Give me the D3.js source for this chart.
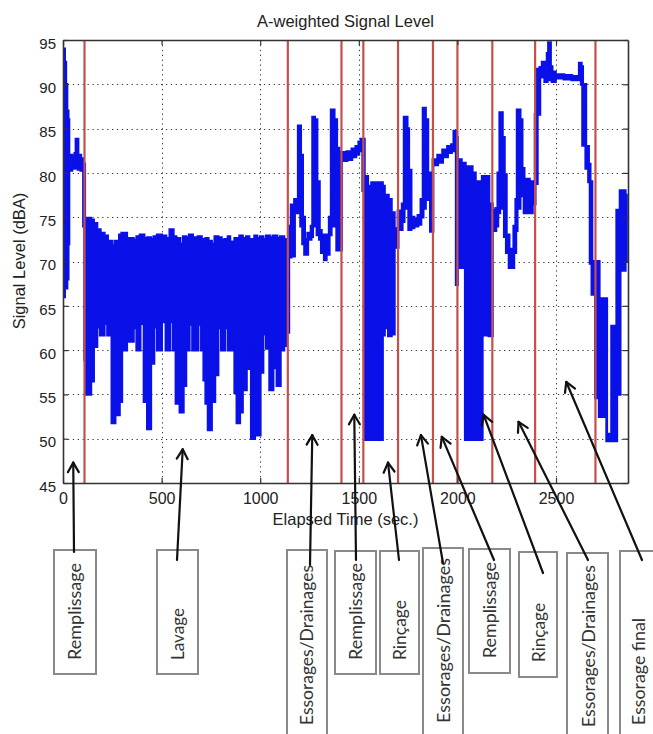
<!DOCTYPE html>
<html><head><meta charset="utf-8">
<script src="https://cdn.jsdelivr.net/npm/d3@7"></script>
<style>body{margin:0;background:#fff}</style>
</head><body>
<svg id="c" width="653" height="734"></svg>
<script>
// ---- data (min/max of the signal level within each time bin) ----
const time = [0,8,14,20,26,30,45,60,66,76,90,104,110,116,141,155,172,189,209,226,248,264,286,298,323,357,374,391,411,428,445,461,478,500,522,542,559,573,593,610,623,640,657,685,702,714,724,736,753,770,786,803,820,837,846,859,871,882,896,910,930,943,955,972,983,1000,1014,1031,1048,1065,1085,1102,1120,1132,1145,1157,1174,1193,1205,1215,1225,1241,1258,1266,1276,1288,1300,1310,1325,1335,1350,1360,1375,1388,1400,1412,1440,1465,1485,1500,1512,1520,1528,1545,1565,1620,1630,1650,1665,1680,1699,1720,1730,1745,1753,1765,1780,1800,1815,1826,1838,1850,1863,1876,1900,1925,1950,1970,1982,1994,2000,2020,2040,2075,2091,2126,2160,2177,2195,2205,2215,2228,2238,2248,2262,2286,2296,2303,2318,2328,2338,2365,2380,2394,2405,2418,2430,2443,2455,2462,2472,2480,2497,2540,2580,2618,2628,2635,2651,2665,2673,2682,2700,2719,2757,2782,2808,2825,2851,2857];
const levelLow = [66,67,67,68,72,80.3,80.5,80.6,81,80.4,80.3,74,58.9,55,56.5,60.4,62.6,61.7,63,61.7,51.8,52.7,54.2,60,61,62.5,60,63,54.2,51.1,58.5,62.6,60,63.2,60,63.2,60,54,53,56,60,62.9,60,62.9,60,56.6,54,51,54.2,57.2,62.5,60,62.5,60,62,60,55.2,51.8,53,55.5,58.3,57.9,50,61.2,50.4,57.5,61.8,60.2,55.5,58,56,60,60.5,62,70.5,70.6,75.5,76,74,72,70.8,72.5,72.8,74,79,73,72.5,71,70.2,70.8,73,74,82.8,71.3,71.3,81.4,81.5,81.8,82.1,82.5,82.8,78,49.9,49.9,49.9,61.7,62.5,61.6,61.8,71.6,73.6,74.5,76,78,73.6,73.8,74,74.2,75,76,79.8,77,73.4,80.9,81.2,81.8,82.3,82.5,83,67.4,69.3,69.3,49.9,49.9,49.9,61.7,61.6,73.5,74,75.5,76,79.8,72.8,71,69.3,71,73.5,76,80.5,77.4,75.5,75.5,76.5,78.8,86.6,90.8,91,90.3,90.5,91,90.5,90.3,90.7,90.6,90.5,90.5,90,83.1,80.5,79,69.8,66.3,54.6,52.5,49.75,49.75,55,69,70,70];
const levelHigh = [94,92.5,90,87,86,82,81.8,82.2,83.8,82,81.6,81,74.7,74.9,74.7,74.3,73.6,73.2,72.9,72.3,71.8,72.3,73,73.2,72.6,72.4,72.8,73,72.6,72.7,72.5,72.8,73,72.9,72.6,73.6,72.8,72.6,72,72.8,72.7,73,72.7,72.8,72.5,72.3,72.6,72.3,72,72.8,72.7,72.4,72.5,72.8,72.2,72,72.6,72.3,72.9,72.6,72.8,72.4,72.5,72.9,72.6,72.8,72.5,72.9,72.7,72.9,72.6,72.8,72.5,72.3,74,76.4,77,85.3,82,75,72.5,73.2,74,86.3,86,79,73.5,73,71.5,73,75,87.1,86,82.8,72,82.3,82.4,82.7,83,83.5,83.8,83.8,79.6,78.5,78.9,78.5,77.5,77,75.5,73.7,75.7,76.5,86.3,85,80.3,75,74.8,75.2,77,87.3,86,80,78,81.5,82,82.6,83,83.2,84.7,84,81.5,81.1,80.7,80,79,79.6,76.5,75.8,76,80,86.8,84,79.8,73,71.4,74,77,87.1,86,80.5,79.3,79,78.8,86.6,91.7,91.9,92.5,91.4,93.5,94.7,92,91.4,91.1,91,90.9,92.4,92,90,83,81,79,70,70,65.8,50.5,62.7,75.8,78,77.5,77.5];

const xTicks = [0,500,1000,1500,2000,2500];
const yTicks = [45,50,55,60,65,70,75,80,85,90,95];
const phaseBoundaries = [109,1140,1412,1523,1699,1876,2000,2177,2394,2700];
const phaseLabels = ["Remplissage","Lavage","Essorages/Drainages","Remplissage","Rinçage","Essorages/Drainages","Remplissage","Rinçage","Essorages/Drainages","Essorage final"];
const arrowTime  = [52,607,1264,1477,1648,1815,1921,2133,2310,2552];
const arrowLevel = [47.3,48.8,50.4,52.7,47.3,50.4,50.2,52.7,51.9,56.4];

// ---- layout of the annotation boxes (pixels) ----
// x0,x1,y0,y1: box; lx: label centre x; ly: label start (bottom); lw: label length; ax,ay: arrow tail
const boxLayout = [
  {x0:54, x1:96, y0:550, y1:674, lx:74,  ly:660, lw:97,  ax:74,  ay:552},
  {x0:157,x1:198,y0:550, y1:674, lx:177, ly:660, lw:52,  ax:177, ay:560},
  {x0:287,x1:327,y0:550, y1:760, lx:306, ly:725, lw:160, ax:310, ay:565},
  {x0:335,x1:376,y0:551, y1:674, lx:355, ly:660, lw:97,  ax:356, ay:560},
  {x0:380,x1:419,y0:551, y1:674, lx:399, ly:660, lw:60,  ax:399, ay:560},
  {x0:423,x1:463,y0:548, y1:760, lx:443, ly:723, lw:165, ax:443, ay:563},
  {x0:469,x1:510,y0:549, y1:673, lx:489, ly:658, lw:96,  ax:494, ay:560},
  {x0:519,x1:557,y0:552, y1:677, lx:538, ly:662, lw:59,  ax:543, ay:573},
  {x0:567,x1:608,y0:553, y1:760, lx:588, ly:727, lw:162, ax:588, ay:560},
  {x0:620,x1:670,y0:551, y1:800, lx:638, ly:725, lw:107, ax:642, ay:560}
];

const svg = d3.select("#c");
const L = 63, R = 628, T = 40, B = 483;
const x = d3.scaleLinear().domain([0, 2865]).range([L, R]);
const y = d3.scaleLinear().domain([45, 95]).range([B, T]);

// grid
const grid = svg.append("g").attr("stroke", "#3a3a3a").attr("stroke-width", 1).attr("stroke-dasharray", "1.3,3.6");
grid.selectAll("line.vx").data(xTicks.filter(d => d > 0)).enter().append("line")
  .attr("x1", d => Math.round(x(d)) + 0.5).attr("x2", d => Math.round(x(d)) + 0.5).attr("y1", T).attr("y2", B);
grid.selectAll("line.hy").data(yTicks.filter(d => d > 45 && d < 95)).enter().append("line")
  .attr("y1", d => Math.round(y(d)) + 0.5).attr("y2", d => Math.round(y(d)) + 0.5).attr("x1", L).attr("x2", R);

// signal
const bins = time.map((t, i) => ({t, lo: levelLow[i], hi: levelHigh[i]}));
const area = d3.area().x(d => x(d.t)).y0(d => y(d.lo)).y1(d => y(d.hi)).curve(d3.curveStepAfter);
svg.append("clipPath").attr("id", "pc").append("rect").attr("x", L).attr("y", T - 2).attr("width", R - L).attr("height", B - T + 2);
svg.append("path").datum(bins).attr("d", area).attr("clip-path", "url(#pc)")
  .attr("fill", "#0a10e8").attr("stroke", "#0a10e8").attr("stroke-width", 2.8).attr("stroke-linejoin", "miter");

// phase boundaries
svg.append("g").selectAll("line").data(phaseBoundaries).enter().append("line")
  .attr("x1", d => x(d)).attr("x2", d => x(d)).attr("y1", T).attr("y2", B)
  .attr("stroke", "#c4504c").attr("stroke-width", 2.2);

// axes
const fontAx = "'Liberation Sans', Arial, sans-serif";
const xa = svg.append("g").attr("transform", `translate(0,${B})`).call(d3.axisBottom(x).tickValues(xTicks).tickSize(-5).tickSizeOuter(0).tickPadding(8).tickFormat(d3.format("d")));
const xt = svg.append("g").attr("transform", `translate(0,${T})`).call(d3.axisTop(x).tickValues(xTicks).tickSize(-5).tickSizeOuter(0).tickFormat(""));
const ya = svg.append("g").attr("transform", `translate(${L},0)`).call(d3.axisLeft(y).tickValues(yTicks).tickSize(-5).tickSizeOuter(0).tickPadding(7));
const yr = svg.append("g").attr("transform", `translate(${R},0)`).call(d3.axisRight(y).tickValues(yTicks).tickSize(-5).tickSizeOuter(0).tickFormat(""));
[xa, xt, ya, yr].forEach(g => { g.select(".domain").attr("stroke", "#333").attr("stroke-width", 1.6); g.selectAll(".tick line").attr("stroke", "#333").attr("stroke-width", 1.2); });
xa.selectAll("text").attr("font-family", fontAx).attr("font-size", 16).attr("fill", "#222").attr("dy", "0.8em");
ya.selectAll("text").attr("font-family", fontAx).attr("font-size", 15).attr("fill", "#222").attr("dy", "0.55em");

svg.append("text").attr("x", (L + R) / 2).attr("y", 27).attr("text-anchor", "middle")
  .attr("font-family", fontAx).attr("font-size", 16.5).attr("fill", "#222").text("A-weighted Signal Level");
svg.append("text").attr("x", (L + R) / 2).attr("y", 525).attr("text-anchor", "middle")
  .attr("font-family", fontAx).attr("font-size", 16.5).attr("fill", "#222").text("Elapsed Time (sec.)");
svg.append("text").attr("transform", "translate(25,261) rotate(-90)").attr("text-anchor", "middle")
  .attr("font-family", fontAx).attr("font-size", 16.5).attr("fill", "#222").text("Signal Level (dBA)");

// boxes
const boxes = svg.append("g");
boxLayout.forEach((b, i) => {
  boxes.append("rect").attr("x", b.x0).attr("y", b.y0).attr("width", b.x1 - b.x0).attr("height", b.y1 - b.y0)
    .attr("fill", "#fff").attr("stroke", "#8a8a8a").attr("stroke-width", 2);
  boxes.append("text").attr("transform", `translate(${b.lx},${b.ly}) rotate(-90)`)
    .attr("text-anchor", "start").attr("dominant-baseline", "central")
    .attr("textLength", b.lw).attr("lengthAdjust", "spacingAndGlyphs")
    .attr("font-family", "Lato, 'Open Sans', sans-serif").attr("font-size", 18).attr("fill", "#333")
    .text(phaseLabels[i]);
});

// arrows
const arrows = svg.append("g").attr("stroke", "#111").attr("stroke-width", 2.2).attr("fill", "none").attr("stroke-linecap", "round");
boxLayout.forEach((b, i) => {
  const hx = x(arrowTime[i]), hy = y(arrowLevel[i]);
  const ang = Math.atan2(hy - b.ay, hx - b.ax);
  arrows.append("line").attr("x1", b.ax).attr("y1", b.ay).attr("x2", hx).attr("y2", hy);
  const len = 11, spread = 0.52;
  [ -spread, spread ].forEach(s => {
    arrows.append("line").attr("x1", hx).attr("y1", hy)
      .attr("x2", hx - len * Math.cos(ang + s)).attr("y2", hy - len * Math.sin(ang + s));
  });
});
</script>
</body></html>
